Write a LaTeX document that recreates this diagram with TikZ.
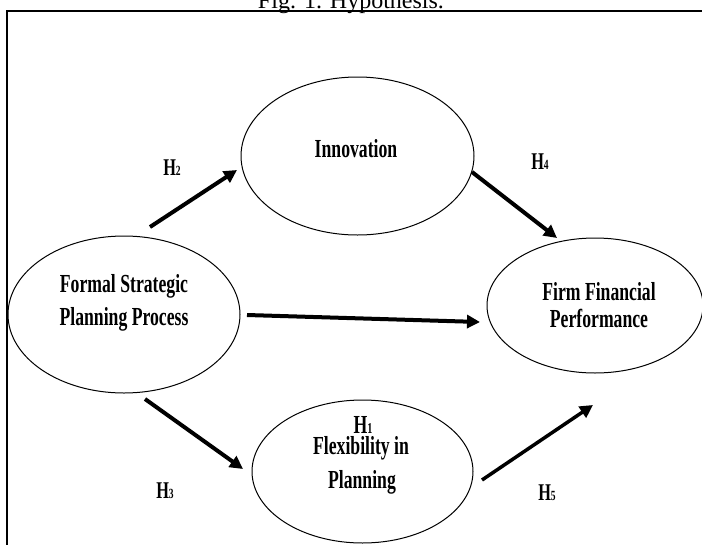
\documentclass[tikz,border=0pt]{standalone}
\usepackage{fontspec}
\setmainfont{Liberation Serif}
\newfontfamily\cond{Liberation Serif}[FakeStretch=0.68]
\usetikzlibrary{arrows.meta,shapes.geometric}
\begin{document}
\begin{tikzpicture}[x=1pt,y=-1pt,
  oval/.style={draw,ellipse,line width=1pt,inner sep=0pt,outer sep=0pt},
  lbl/.style={anchor=base,inner sep=0pt,font=\cond\bfseries\fontsize{26}{30}\selectfont},
  hlbl/.style={anchor=base,inner sep=0pt,font=\cond\bfseries\fontsize{24}{28}\selectfont},
  arr/.style={line width=4pt,-{Triangle[length=13pt,width=13pt]}}]
\useasboundingbox (0,0) rectangle (702,544);
\clip (0,0) rectangle (702,544);
% title and frame
\node[anchor=base,inner sep=0pt,font=\fontsize{24}{28}\selectfont] (title) at (351,8) {Fig. 1. Hypothesis.};
\draw[line width=2.5pt] (7,600) -- (7,11) -- (760,11);
% ellipses
\node[oval,minimum width=233pt,minimum height=158pt] (inn) at (357.5,156) {};
\node[oval,minimum width=232pt,minimum height=157pt] (fsp) at (124,314.5) {};
\node[oval,minimum width=216pt,minimum height=135pt] (ffp) at (595,305.5) {};
\node[oval,minimum width=221pt,minimum height=143pt] (fip) at (362.5,471.5) {};
% texts
\node[lbl] (tinn) at (356,157) {Innovation};
\node[lbl] (tfsp1) at (124,292) {Formal Strategic};
\node[lbl] (tfsp2) at (124,325) {Planning Process};
\node[lbl] (tffp1) at (599,300) {Firm Financial};
\node[lbl] (tffp2) at (599,327) {Performance};
\node[lbl] (h1) at (363,433) {H{\fontsize{15}{15}\selectfont 1}};
\node[lbl] (tfip1) at (361,454) {Flexibility in};
\node[lbl] (tfip2) at (362,488) {Planning};
% hypothesis labels
\node[hlbl] (h2) at (172,175) {H{\fontsize{14}{14}\selectfont 2}};
\node[hlbl] (h4) at (540,169) {H{\fontsize{14}{14}\selectfont 4}};
\node[hlbl] (h3) at (165,498) {H{\fontsize{14}{14}\selectfont 3}};
\node[hlbl] (h5) at (547,500) {H{\fontsize{14}{14}\selectfont 5}};
% arrow ends
\coordinate (a2s) at (150,227); \coordinate (a2e) at (237,170);
\coordinate (a4s) at (472,172); \coordinate (a4e) at (557,238);
\coordinate (a1s) at (247,315); \coordinate (a1e) at (480,322);
\coordinate (a3s) at (145,399); \coordinate (a3e) at (243,469);
\coordinate (a5s) at (482,480); \coordinate (a5e) at (593,405);
\draw[arr] (a2s) -- (a2e);
\draw[arr] (a4s) -- (a4e);
\draw[arr] (a1s) -- (a1e);
\draw[arr] (a3s) -- (a3e);
\draw[arr,line width=3.5pt] (a5s) -- (a5e);
\end{tikzpicture}
\end{document}
